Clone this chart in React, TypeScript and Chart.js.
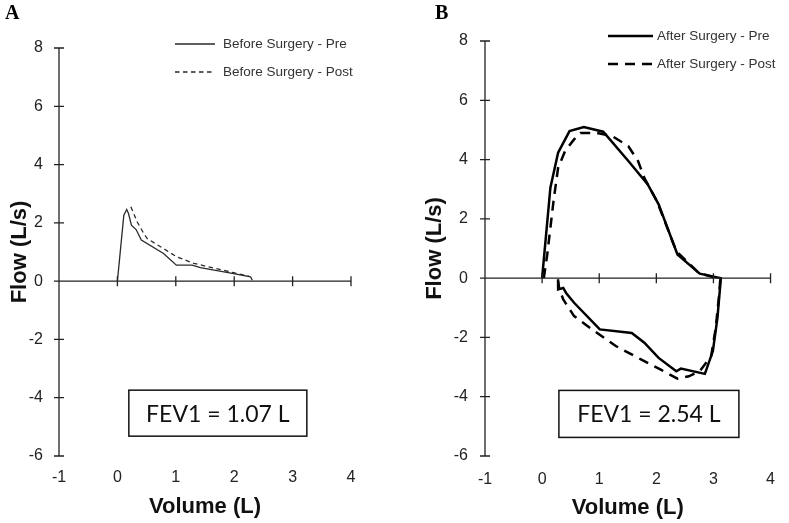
import React, { useEffect, useRef } from "react";
import { Chart, registerables } from "chart.js";

Chart.register(...registerables);

// Axis ranges and tick labels
const volumeTicks = [-1, 0, 1, 2, 3, 4];
const flowTicks = [-6, -4, -2, 0, 2, 4, 6, 8];

// Panel A: before surgery (volume in L, flow in L/s)
const beforePreVolume = [0, 0.11, 0.16, 0.19, 0.24, 0.32, 0.41, 0.79, 1.01, 1.28, 1.42, 1.99, 2.28, 2.31];
const beforePreFlow = [0, 2.26, 2.46, 2.32, 1.92, 1.77, 1.41, 0.95, 0.55, 0.55, 0.46, 0.26, 0.15, 0.03];
const beforePostVolume = [0.23, 0.34, 0.45, 0.51, 0.65, 1.02, 1.31, 1.99, 2.25];
const beforePostFlow = [2.55, 2.03, 1.64, 1.46, 1.29, 0.83, 0.61, 0.29, 0.17];

// Panel B: after surgery, expiratory limb followed by the inspiratory limb
const afterPreVolume = [0, 0.145, 0.28, 0.48, 0.73, 1.07, 1.51, 1.85, 2.04, 2.37, 2.76, 3.13, 3.07, 2.99, 2.85, 2.43, 2.35, 2.04, 1.79, 1.57, 1.01, 0.56, 0.42, 0.37, 0.28, 0.28];
const afterPreFlow = [0, 3.05, 4.23, 4.96, 5.1, 4.94, 3.95, 3.16, 2.49, 0.8, 0.15, 0, -1.34, -2.46, -3.23, -3.05, -3.14, -2.69, -2.18, -1.85, -1.73, -0.83, -0.5, -0.33, -0.38, -0.04];
const afterPostVolume = [0.03, 0.09, 0.2, 0.28, 0.4, 0.56, 0.67, 0.95, 1.23, 1.51, 1.68, 1.79, 2.01, 2.35, 2.74, 3.04, 3.12, 3.1, 3.04, 2.96, 2.76, 2.57, 2.37, 2.07, 1.73, 1.29, 0.84, 0.56, 0.37, 0.3, 0.28];
const afterPostFlow = [0, 0.8, 2.6, 3.72, 4.28, 4.68, 4.9, 4.9, 4.79, 4.45, 3.95, 3.38, 2.6, 0.91, 0.18, 0.01, -0.04, -0.55, -1.68, -2.63, -3.14, -3.31, -3.39, -3.08, -2.74, -2.29, -1.68, -1.28, -0.72, -0.35, -0.1];

// FEV1 annotations: text and box centre in data units
const fev1TextA = "FEV1 = 1.07 L";
const fev1TextB = "FEV1 = 2.54 L";
const fev1CenterA = [1.72, -4.53];
const fev1CenterB = [1.87, -4.58];

const toPoints = (xs: number[], ys: number[]) => xs.map((x, i) => ({ x, y: ys[i] }));

type Series = { label: string; points: { x: number; y: number }[]; dashed: boolean };

type PanelSpec = {
  letter: string;
  letterX: number;
  left: number;
  width: number;
  padTop: number;
  padRight: number;
  yScaleWidth: number;
  xScaleHeight: number;
  yTitlePad: number;
  xTitlePad: number;
  xTickPad: number;
  yTickPad: number;
  lineWidth: number;
  lineColor: string;
  dash: number[];
  legendLine: number[];
  legendTextX: number;
  legendRows: number[];
  series: Series[];
  fev1Text: string;
  fev1Center: number[];
  boxW: number;
  boxH: number;
};

const panels: PanelSpec[] = [
  {
    letter: "A",
    letterX: 5,
    left: 0,
    width: 400,
    padTop: 48,
    padRight: 49,
    yScaleWidth: 59,
    xScaleHeight: 67,
    yTitlePad: 7,
    xTitlePad: 3,
    xTickPad: 12,
    yTickPad: 16,
    lineWidth: 1.3,
    lineColor: "#2a2a2a",
    dash: [4.5, 3.5],
    legendLine: [175, 215],
    legendTextX: 223,
    legendRows: [44, 72],
    series: [
      { label: "Before Surgery - Pre", points: toPoints(beforePreVolume, beforePreFlow), dashed: false },
      { label: "Before Surgery - Post", points: toPoints(beforePostVolume, beforePostFlow), dashed: true },
    ],
    fev1Text: fev1TextA,
    fev1Center: fev1CenterA,
    boxW: 178,
    boxH: 46,
  },
  {
    letter: "B",
    letterX: 35,
    left: 400,
    width: 389,
    padTop: 41,
    padRight: 7,
    yScaleWidth: 85,
    xScaleHeight: 67,
    yTitlePad: 22,
    xTitlePad: 2,
    xTickPad: 14,
    yTickPad: 17,
    lineWidth: 2.5,
    lineColor: "#000",
    dash: [10, 7],
    legendLine: [208, 253],
    legendTextX: 257,
    legendRows: [36, 64],
    series: [
      { label: "After Surgery - Pre", points: toPoints(afterPreVolume, afterPreFlow), dashed: false },
      { label: "After Surgery - Post", points: toPoints(afterPostVolume, afterPostFlow), dashed: true },
    ],
    fev1Text: fev1TextB,
    fev1Center: fev1CenterB,
    boxW: 180,
    boxH: 47,
  },
];

function makePlugins(spec: PanelSpec) {
  // Axes crossing at y = 0, with ticks straddling both lines
  const crossAxes = {
    id: "crossAxes",
    afterDatasetsDraw(chart: any) {
      const { ctx, scales } = chart;
      const x = scales.x;
      const y = scales.y;
      const xL = x.getPixelForValue(x.min);
      const xR = x.getPixelForValue(x.max);
      const yT = y.getPixelForValue(y.max);
      const yB = y.getPixelForValue(y.min);
      const y0 = y.getPixelForValue(0);
      ctx.save();
      ctx.strokeStyle = "#222";
      ctx.lineWidth = 1.3;
      ctx.setLineDash([]);
      ctx.beginPath();
      ctx.moveTo(xL, yT);
      ctx.lineTo(xL, yB);
      ctx.moveTo(xL, y0);
      ctx.lineTo(xR, y0);
      y.ticks.forEach((t: any) => {
        const p = y.getPixelForValue(t.value);
        ctx.moveTo(xL - 5, p);
        ctx.lineTo(xL + 5, p);
      });
      x.ticks.forEach((t: any) => {
        if (t.value === x.min) return;
        const p = x.getPixelForValue(t.value);
        ctx.moveTo(p, y0 - 5);
        ctx.lineTo(p, y0 + 5);
      });
      ctx.stroke();
      ctx.restore();
    },
  };

  // Line-sample legend in the upper right
  const lineLegend = {
    id: "lineLegend",
    afterDraw(chart: any) {
      const { ctx } = chart;
      ctx.save();
      chart.data.datasets.forEach((ds: any, i: number) => {
        const yRow = spec.legendRows[i];
        ctx.strokeStyle = ds.borderColor;
        ctx.lineWidth = ds.borderWidth;
        ctx.setLineDash(ds.borderDash || []);
        ctx.beginPath();
        ctx.moveTo(spec.legendLine[0], yRow);
        ctx.lineTo(spec.legendLine[1], yRow);
        ctx.stroke();
        ctx.setLineDash([]);
        ctx.fillStyle = "#333";
        ctx.font = "13.5px 'Liberation Sans', Arial, sans-serif";
        ctx.textAlign = "left";
        ctx.textBaseline = "middle";
        ctx.fillText(ds.label, spec.legendTextX, yRow + 0.5);
      });
      ctx.restore();
    },
  };

  // Boxed FEV1 note and panel letter
  const notes = {
    id: "notes",
    afterDraw(chart: any) {
      const { ctx, scales } = chart;
      const cx = scales.x.getPixelForValue(spec.fev1Center[0]);
      const cy = scales.y.getPixelForValue(spec.fev1Center[1]);
      ctx.save();
      ctx.fillStyle = "#fff";
      ctx.fillRect(cx - spec.boxW / 2, cy - spec.boxH / 2, spec.boxW, spec.boxH);
      ctx.strokeStyle = "#111";
      ctx.lineWidth = 1.5;
      ctx.strokeRect(cx - spec.boxW / 2, cy - spec.boxH / 2, spec.boxW, spec.boxH);
      ctx.fillStyle = "#111";
      ctx.font = "23px Lato, 'Open Sans', sans-serif";
      ctx.textAlign = "center";
      ctx.textBaseline = "middle";
      ctx.fillText(spec.fev1Text, cx, cy + 1);
      ctx.font = "bold 20px 'Liberation Serif', 'Times New Roman', serif";
      ctx.textAlign = "left";
      ctx.textBaseline = "alphabetic";
      ctx.fillStyle = "#000";
      ctx.fillText(spec.letter, spec.letterX, 18.5);
      ctx.restore();
    },
  };

  return [crossAxes, lineLegend, notes];
}

function Panel({ spec }: { spec: PanelSpec }) {
  const ref = useRef<HTMLCanvasElement | null>(null);

  useEffect(() => {
    const canvas = ref.current;
    if (!canvas) return;
    const tickFont = { family: "'Liberation Sans', Arial, sans-serif", size: 16 };
    const titleFont = { family: "'Liberation Sans', Arial, sans-serif", size: 22, weight: "bold" as const };
    const chart = new Chart(canvas, {
      type: "scatter",
      data: {
        datasets: spec.series.map((s) => ({
          label: s.label,
          data: s.points,
          showLine: true,
          fill: false,
          tension: 0,
          pointRadius: 0,
          borderColor: spec.lineColor,
          backgroundColor: spec.lineColor,
          borderWidth: spec.lineWidth,
          borderDash: s.dashed ? spec.dash : [],
        })),
      },
      options: {
        responsive: false,
        animation: false,
        devicePixelRatio: 1,
        events: [],
        layout: { padding: { top: spec.padTop, right: spec.padRight, left: 0, bottom: 0 } },
        plugins: {
          legend: { display: false },
          tooltip: { enabled: false },
        },
        scales: {
          x: {
            type: "linear",
            min: volumeTicks[0],
            max: volumeTicks[volumeTicks.length - 1],
            afterBuildTicks: (scale: any) => {
              scale.ticks = volumeTicks.map((v) => ({ value: v }));
            },
            afterFit: (scale: any) => {
              scale.height = spec.xScaleHeight;
            },
            grid: { display: false, drawTicks: false, tickLength: 0 },
            border: { display: false },
            ticks: { font: tickFont, color: "#222", padding: spec.xTickPad, maxRotation: 0, autoSkip: false },
            title: {
              display: true,
              text: "Volume (L)",
              font: titleFont,
              color: "#111",
              padding: { top: 0, bottom: spec.xTitlePad },
            },
          },
          y: {
            type: "linear",
            min: flowTicks[0],
            max: flowTicks[flowTicks.length - 1],
            afterBuildTicks: (scale: any) => {
              scale.ticks = flowTicks.map((v) => ({ value: v }));
            },
            afterFit: (scale: any) => {
              scale.width = spec.yScaleWidth;
            },
            grid: { display: false, drawTicks: false, tickLength: 0 },
            border: { display: false },
            ticks: { font: tickFont, color: "#222", padding: spec.yTickPad, autoSkip: false },
            title: {
              display: true,
              text: "Flow (L/s)",
              font: titleFont,
              color: "#111",
              padding: { top: spec.yTitlePad, bottom: 0 },
            },
          },
        },
      },
      plugins: makePlugins(spec),
    });
    return () => chart.destroy();
  }, [spec]);

  return (
    <canvas
      ref={ref}
      width={spec.width}
      height={523}
      style={{ position: "absolute", left: spec.left, top: 0, width: spec.width, height: 523 }}
    />
  );
}

export default function App() {
  return (
    <div style={{ position: "fixed", left: 0, top: 0, width: 789, height: 523, background: "#fff", overflow: "hidden" }}>
      {panels.map((p) => (
        <Panel key={p.letter} spec={p} />
      ))}
    </div>
  );
}
